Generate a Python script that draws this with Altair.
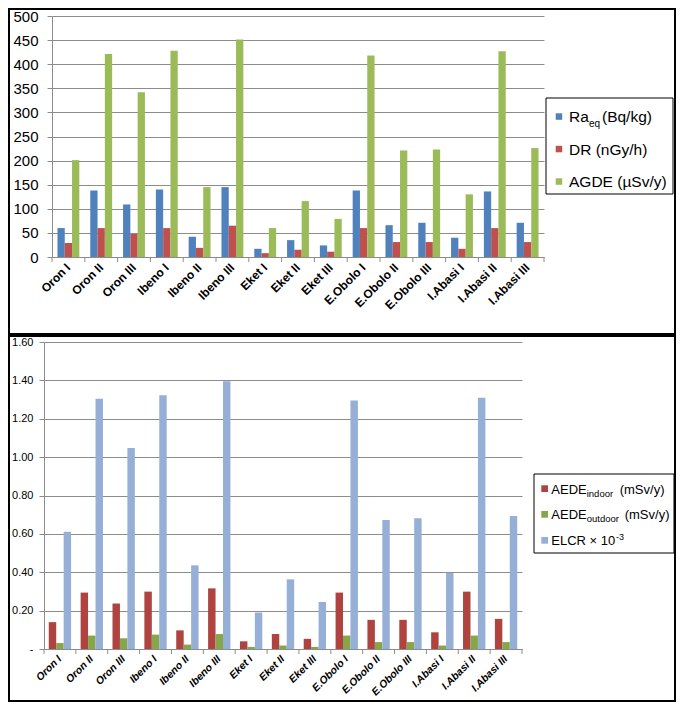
import altair as alt
import pandas as pd

cats = ["Oron I", "Oron II", "Oron III", "Ibeno I", "Ibeno II", "Ibeno III",
        "Eket I", "Eket II", "Eket III", "E.Obolo I", "E.Obolo II", "E.Obolo III",
        "I.Abasi I", "I.Abasi II", "I.Abasi III"]

# top panel series
top_series = ["Raeq (Bq/kg)", "DR (nGy/h)", "AGDE (µSv/y)"]
raeq = [60, 138, 109, 140, 42, 145, 17, 35, 24, 138, 66, 71, 40, 136, 71]
dr = [29, 60, 48, 60, 19, 65, 8, 15, 11, 60, 31, 31, 17, 60, 31]
agde = [201, 421, 342, 428, 145, 451, 60, 116, 79, 418, 221, 223, 130, 427, 226]
top_colors = ["#4F81BD", "#C0504D", "#9BBB59"]

# bottom panel series
bot_series = ["AEDE indoor (mSv/y)", "AEDE outdoor (mSv/y)", "ELCR x 10-3"]
indoor = [0.140, 0.294, 0.237, 0.299, 0.097, 0.316, 0.040, 0.078, 0.053,
          0.294, 0.152, 0.152, 0.087, 0.299, 0.157]
outdoor = [0.031, 0.070, 0.056, 0.075, 0.023, 0.078, 0.011, 0.018, 0.011,
           0.070, 0.036, 0.036, 0.018, 0.070, 0.036]
elcr = [0.611, 1.304, 1.047, 1.322, 0.436, 1.396, 0.190, 0.363, 0.245,
        1.295, 0.672, 0.681, 0.397, 1.309, 0.693]
bot_colors = ["#AE433F", "#86A64A", "#95AFD6"]

top_ticks = list(range(0, 501, 50))
bot_ticks = [0, 0.2, 0.4, 0.6, 0.8, 1.0, 1.2, 1.4, 1.6]

FONT = "Liberation Sans"
GRID = "#8c8c8c"


def long(series, arrays):
    rows = []
    for s, arr in zip(series, arrays):
        for c, v in zip(cats, arr):
            rows.append({"cat": c, "series": s, "value": v})
    return pd.DataFrame(rows)


one = pd.DataFrame({"k": [0]})
cat_df = pd.DataFrame({"cat": cats})


def txt(x, y, s, size, align="left", **kw):
    return alt.Chart(one).mark_text(
        text=s, align=align, baseline="alphabetic", font=FONT, fontSize=size,
        color="black", **kw
    ).encode(x=alt.value(x), y=alt.value(y))


def rect(x1, x2, y1, y2, **kw):
    return alt.Chart(one).mark_rect(**kw).encode(
        x=alt.value(x1), x2=alt.value(x2), y=alt.value(y1), y2=alt.value(y2))


def panel(df, series, colors, x0, W, H, ymax, yvals, ylabel_size, ylabel_expr,
          ylabel_pad, xlab_size, xlab_style, xlab_weight, pad_outer):
    xaxis = alt.Axis(labelAngle=-45, ticks=False, domainColor=GRID, domainWidth=1,
                     labelFont=FONT, labelFontSize=xlab_size, labelColor="black",
                     labelFontStyle=xlab_style, labelFontWeight=xlab_weight,
                     labelAlign="right", labelBaseline="middle", labelPadding=8,
                     labelOverlap=False, title=None)
    yaxis = alt.Axis(values=yvals, grid=True, gridColor=GRID, gridWidth=1,
                     domainColor=GRID, tickColor=GRID, tickSize=5, offset=-x0,
                     labelFont=FONT, labelFontSize=ylabel_size, labelColor="black",
                     labelPadding=ylabel_pad, labelExpr=ylabel_expr, title=None)
    xs = alt.Scale(paddingInner=0, paddingOuter=0, range=[x0, W])
    bars = alt.Chart(df).mark_bar().encode(
        x=alt.X("cat:N", sort=cats, scale=xs, axis=xaxis),
        xOffset=alt.XOffset("series:N", sort=series,
                            scale=alt.Scale(paddingOuter=pad_outer, paddingInner=0)),
        y=alt.Y("value:Q", scale=alt.Scale(domain=[0, ymax], nice=False), axis=yaxis),
        color=alt.Color("series:N", sort=series,
                        scale=alt.Scale(domain=series, range=colors), legend=None),
    )
    ticks = alt.Chart(cat_df).mark_rule(color=GRID).encode(
        x=alt.X("cat:N", sort=cats, bandPosition=0, title=None),
        y=alt.value(H), y2=alt.value(H + 5))
    endtick = alt.Chart(one).mark_rule(color=GRID).encode(
        x=alt.value(W), y=alt.value(H), y2=alt.value(H + 5))
    return bars, ticks, endtick


# ---------- top panel (plot origin shared at page x 44; top axis shifted 8px) ----------
TX0, TW, TH = 8, 500, 241
tb, tt, te = panel(long(top_series, [raeq, dr, agde]), top_series, top_colors,
                   TX0, TW, TH, 500, top_ticks, 15, "datum.label", 9,
                   12, "normal", "bold", 0.75)
top_border = rect(-35, 631, -7, 318, fillOpacity=0, stroke="black", strokeWidth=2)
top_leg = [
    rect(502, 629, 82, 178, fillOpacity=0, stroke="black", strokeWidth=1),
    rect(511.7, 518.2, 97.3, 103.8, color=top_colors[0]),
    rect(511.7, 518.2, 129.8, 136.3, color=top_colors[1]),
    rect(511.7, 518.2, 162.3, 168.8, color=top_colors[2]),
    txt(525, 106.3, "Ra", 15.5),
    txt(545, 110.5, "eq", 10),
    txt(558, 106.3, "(Bq/kg)", 15.5),
    txt(525, 138.8, "DR (nGy/h)", 15.5),
    txt(525, 171.3, "AGDE (µSv/y)", 15.5),
]
top = alt.layer(top_border, tb, tt, te, *top_leg).properties(width=TW, height=TH)

# ---------- bottom panel ----------
BW, BH = 478, 307
bb, bt, be = panel(long(bot_series, [indoor, outdoor, elcr]), bot_series, bot_colors,
                   0, BW, BH, 1.6, bot_ticks, 11,
                   "datum.value == 0 ? '-' : format(datum.value, '.2f')", 6,
                   10.5, "italic", "bold", 0.64)
bot_border = rect(-35, 631, -6, 359, fillOpacity=0, stroke="black", strokeWidth=2)
bot_leg = [
    rect(490, 630, 132, 211, fillOpacity=0, stroke="black", strokeWidth=1),
    rect(497.3, 504, 143.3, 150, color=bot_colors[0]),
    rect(497.3, 504, 169, 175.7, color=bot_colors[1]),
    rect(497.3, 504, 195, 201.7, color=bot_colors[2]),
    txt(507.3, 151.7, "AEDE", 13),
    txt(542.7, 154.7, "indoor", 9.5),
    txt(575.7, 151.7, "(mSv/y)", 13),
    txt(507.3, 177.3, "AEDE", 13),
    txt(542.7, 180.3, "outdoor", 9.5),
    txt(580.7, 177.3, "(mSv/y)", 13),
    txt(507.3, 203, "ELCR × 10", 13),
    txt(572, 197.5, "-3", 9),
]
bottom = alt.layer(bot_border, bb, bt, be, *bot_leg).properties(width=BW, height=BH)

chart = alt.ConcatChart(concat=[top, bottom], columns=1, spacing=0,
                        padding=0).resolve_scale(
    color="independent", xOffset="independent", x="independent", y="independent"
).configure_view(stroke=None)

chart.save("out.html", embed_options={"renderer": "svg", "actions": False})
